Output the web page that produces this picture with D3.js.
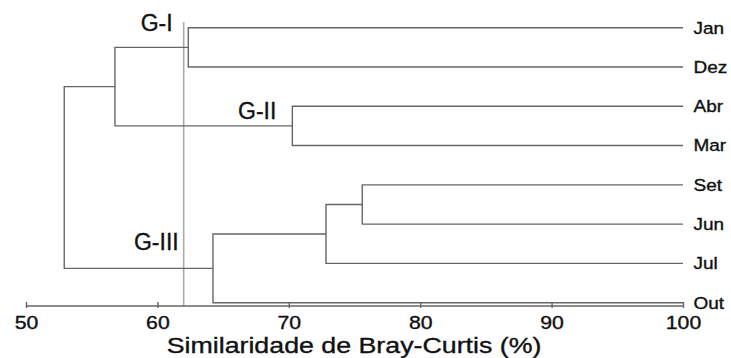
<!DOCTYPE html>
<html>
<head>
<meta charset="utf-8">
<script src="https://cdn.jsdelivr.net/npm/d3@7"></script>
<style>
  body { margin: 0; background: #fff; }
  svg { display: block; font-family: Arial, "Liberation Sans", sans-serif; }
  text { fill: #111; stroke: #111; stroke-width: 0.35; }
</style>
</head>
<body>
<svg id="chart" width="731" height="358"></svg>
<script>
// leaves, top to bottom
const leafNames = ["Jan", "Dez", "Abr", "Mar", "Set", "Jun", "Jul", "Out"]
// hclust style merge list: negative = leaf (1-based), positive = earlier merge
const mergePairs = [[-1, -2], [-3, -4], [1, 2], [-5, -6], [4, -7], [5, -8], [3, 6]]
const mergeHeights = [62.35, 70.27, 56.77, 75.59, 72.83, 64.23, 52.91]
const cutLevel = 62.0
const groupLabels = ["G-I", "G-II", "G-III"]
const xTicks = [50, 60, 70, 80, 90, 100]
const xTitle = "Similaridade de Bray-Curtis (%)"

const svg = d3.select("#chart")
const lineColor = "#666"
const stretch = 1.2 // the scanned text is wider than it is tall

const xScale = d3.scaleLinear().domain([50, 100]).range([26, 683])
const yScale = d3.scalePoint().domain(leafNames).range([27.7, 302.7])

// work out where each node sits
const nodes = []
function pos(ref) {
  if (ref < 0) return { x: xScale(100), y: yScale(leafNames[-ref - 1]) }
  return nodes[ref - 1]
}
mergePairs.forEach((pair, i) => {
  const a = pos(pair[0]), b = pos(pair[1])
  nodes.push({ x: xScale(mergeHeights[i]), y: (a.y + b.y) / 2, a: a, b: b })
})

// cut line
svg.append("line")
  .attr("x1", xScale(cutLevel)).attr("x2", xScale(cutLevel))
  .attr("y1", 22).attr("y2", 306)
  .style("stroke", "#aaa")
  .style("stroke-width", 1.6)

const tree = svg.append("g")
  .style("stroke", lineColor)
  .style("stroke-width", 1.4)
  .style("fill", "none")

nodes.forEach(n => {
  tree.append("path")
    .attr("d", `M${n.a.x},${n.a.y}H${n.x}V${n.b.y}H${n.b.x}`)
})

// leaf labels
svg.append("g").selectAll("text")
  .data(leafNames)
  .enter()
  .append("text")
  .attr("transform", d => `translate(693.5,${yScale(d) + 5.8}) scale(1.15,1)`)
  .attr("font-size", 16.5)
  .text(d => d)

// x axis
const xAxis = d3.axisBottom(xScale).tickValues(xTicks).tickFormat(d3.format("d"))
const axisG = svg.append("g")
  .attr("transform", "translate(0,306)")
  .call(xAxis)
axisG.select(".domain").attr("d", `M${xScale(50)},0H${xScale(100)}`)
  .style("stroke", lineColor).style("stroke-width", 1.4)
axisG.selectAll(".tick line").attr("y1", 2).attr("y2", -4)
  .style("stroke", lineColor).style("stroke-width", 1.4)
axisG.selectAll(".tick text")
  .attr("y", 23.3).attr("dy", null)
  .attr("transform", `scale(${stretch},1)`)
  .attr("font-size", 17.7)
  .attr("font-family", null)
  .attr("fill", null)

svg.append("text")
  .attr("transform", `translate(354,353.3) scale(${stretch},1)`)
  .attr("text-anchor", "middle")
  .attr("font-size", 22.3)
  .text(xTitle)

// group annotations
const g2 = nodes[1], g3 = nodes[5]
const groupPos = [
  [xScale(cutLevel) - 11, 30.7],
  [g2.x - 16, g2.y - 6.6],
  [xScale(cutLevel) - 5, g3.y - 18]
]
svg.append("g").selectAll("text")
  .data(groupLabels)
  .enter()
  .append("text")
  .attr("x", (d, i) => groupPos[i][0])
  .attr("y", (d, i) => groupPos[i][1])
  .attr("text-anchor", "end")
  .attr("font-size", 23)
  .text(d => d)
</script>
</body>
</html>
